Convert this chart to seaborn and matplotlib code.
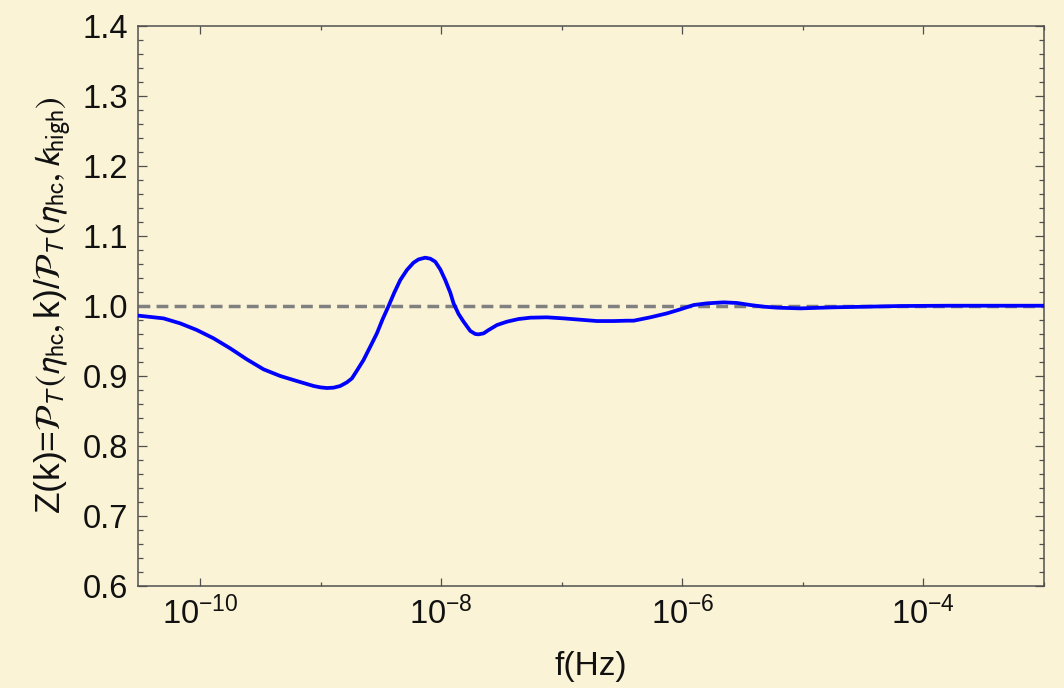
import numpy as np
import pandas as pd
import matplotlib
matplotlib.use("Agg")
import matplotlib.pyplot as plt
from matplotlib.ticker import FixedLocator, FixedFormatter
import seaborn as sns

# log10 of the frequency f (Hz) and the ratio Z(k) at each point
log_f = [
    -10.512, -10.415, -10.304, -10.166, -10.028, -9.889, -9.751, -9.613,
    -9.474, -9.336, -9.198, -9.059, -9.004, -8.949, -8.894, -8.838,
    -8.783, -8.741, -8.700, -8.645, -8.589, -8.534, -8.487, -8.437,
    -8.390, -8.340, -8.285, -8.230, -8.188, -8.133, -8.091, -8.050,
    -8.008, -7.967, -7.925, -7.898, -7.856, -7.815, -7.759, -7.718,
    -7.690, -7.649, -7.607, -7.538, -7.455, -7.358, -7.261, -7.123,
    -6.985, -6.846, -6.708, -6.570, -6.459, -6.404, -6.266, -6.127,
    -6.017, -5.906, -5.795, -5.657, -5.546, -5.436, -5.325, -5.214,
    -5.021, -4.744, -4.467, -4.191, -3.776, -3.361, -3.000,
]
z_ratio = [
    0.9858, 0.9840, 0.9819, 0.9748, 0.9653, 0.9534, 0.9391, 0.9234,
    0.9091, 0.8996, 0.8924, 0.8853, 0.8834, 0.8824, 0.8829, 0.8853,
    0.8905, 0.8962, 0.9072, 0.9224, 0.9415, 0.9605, 0.9805, 0.9996,
    1.0186, 1.0367, 1.0510, 1.0615, 1.0662, 1.0686, 1.0672, 1.0629,
    1.0519, 1.0367, 1.0186, 1.0034, 0.9881, 0.9772, 0.9639, 0.9596,
    0.9591, 0.9605, 0.9653, 0.9724, 0.9772, 0.9810, 0.9829, 0.9834,
    0.9819, 0.9800, 0.9781, 0.9781, 0.9786, 0.9786, 0.9834, 0.9891,
    0.9948, 1.0010, 1.0034, 1.0048, 1.0039, 1.0010, 0.9986, 0.9972,
    0.9962, 0.9977, 0.9986, 0.9996, 1.0000, 1.0000, 1.0000,
]
ref_level = 1.0

x_limits = (3.05e-11, 1e-3)
y_limits = (0.6, 1.4)
x_major = [1e-10, 1e-8, 1e-6, 1e-4]
x_major_labels = [r"$10^{-10}$", r"$10^{-8}$", r"$10^{-6}$", r"$10^{-4}$"]
x_minor = [1e-9, 1e-7, 1e-5, 1e-3]
y_major = [0.6, 0.7, 0.8, 0.9, 1.0, 1.1, 1.2, 1.3, 1.4]
y_major_labels = ["0.6", "0.7", "0.8", "0.9", "1.0", "1.1", "1.2", "1.3", "1.4"]
y_minor = [round(0.6 + 0.02 * i, 2) for i in range(41)]

x_label = "f(Hz)"
y_label = (r"Z(k)=$\mathcal{P}_T\,(\eta_{\mathrm{hc}},$k)/"
           r"$\mathcal{P}_T\,(\eta_{\mathrm{hc}},k_{\mathrm{high}})$")

df = pd.DataFrame({"f": 10.0 ** np.array(log_f), "Z": z_ratio})

sns.set_theme(style="ticks")
bg = "#faf3d6"
frame = "#505050"
plt.rcParams["font.family"] = ["Liberation Sans", "DejaVu Sans"]
plt.rcParams["mathtext.fontset"] = "custom"
plt.rcParams["mathtext.rm"] = "Liberation Sans"
plt.rcParams["mathtext.it"] = "Liberation Sans:italic"
plt.rcParams["mathtext.sf"] = "Liberation Sans"
plt.rcParams["axes.unicode_minus"] = True

fig = plt.figure(figsize=(10.64, 6.88), dpi=100, facecolor=bg)
ax = fig.add_axes([0.1297, 0.1487, 0.8515, 0.8139])
ax.set_facecolor(bg)

ax.axhline(ref_level, color="#808080", lw=2.5, dashes=(3.4, 1.8), zorder=2)
sns.lineplot(data=df, x="f", y="Z", ax=ax, color="#0000ff", lw=2.7,
             estimator=None, sort=False, zorder=3)
for ln in ax.get_lines():
    ln.set_solid_joinstyle("round")
    ln.set_solid_capstyle("round")

ax.set_xscale("log")
ax.set_xlim(*x_limits)
ax.set_ylim(*y_limits)

ax.xaxis.set_major_locator(FixedLocator(x_major))
ax.xaxis.set_major_formatter(FixedFormatter(x_major_labels))
ax.xaxis.set_minor_locator(FixedLocator(x_minor))
ax.xaxis.set_minor_formatter(FixedFormatter([""] * len(x_minor)))
ax.yaxis.set_major_locator(FixedLocator(y_major))
ax.yaxis.set_major_formatter(FixedFormatter(y_major_labels))
ax.yaxis.set_minor_locator(FixedLocator(y_minor))

for s in ax.spines.values():
    s.set_visible(True)
    s.set_color(frame)
    s.set_linewidth(1.1)

ax.tick_params(which="both", direction="in", top=True, right=True,
               color=frame, width=0.9, labelsize=23.5, labelcolor="#111111")
ax.tick_params(axis="x", which="major", length=6, pad=8)
ax.tick_params(axis="x", which="minor", length=3)
ax.tick_params(axis="y", which="major", length=6.5, pad=7)
ax.tick_params(axis="y", which="minor", length=3.5)

ax.set_xlabel(x_label, fontsize=24, color="#111111", labelpad=14)
yl = ax.set_ylabel(y_label, fontsize=25.5, color="#111111", labelpad=6)
yl.set_math_fontfamily("stixsans")

fig.savefig("out.png", dpi=100, facecolor=bg)
